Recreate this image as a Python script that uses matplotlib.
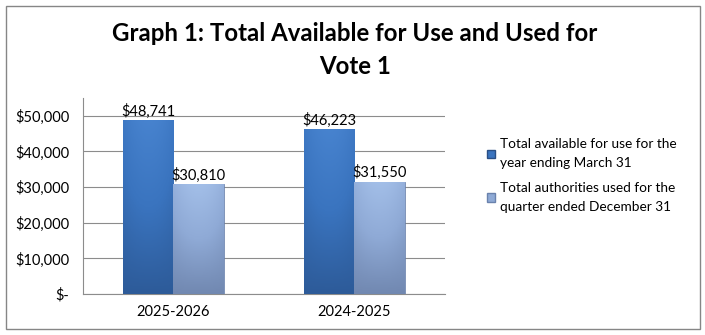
import matplotlib
matplotlib.use("Agg")
import matplotlib.pyplot as plt
import numpy as np
from matplotlib.patches import Patch, Rectangle
from matplotlib.colors import LinearSegmentedColormap

plt.rcParams['font.family'] = ['Lato', 'DejaVu Sans']

categories = ['2025-2026', '2024-2025']
available = [48741, 46223]
used = [30810, 31550]
series_names = ['Total available for use for the\nyear ending March 31',
                'Total authorities used for the\nquarter ended December 31']
yticks = [0, 10000, 20000, 30000, 40000, 50000]
ytick_labels = ['$-', '$10,000', '$20,000', '$30,000', '$40,000', '$50,000']

dark_cmap = LinearSegmentedColormap.from_list('dark', ['#2a5590', '#3a74bf', '#4a86d2'])
light_cmap = LinearSegmentedColormap.from_list('light', ['#6a80a8', '#8faad6', '#a7c3ec'])

fig = plt.figure(figsize=(7.05, 3.35), dpi=100)
ax = fig.add_axes([0.1177, 0.1224, 0.5135, 0.585])

x = np.arange(len(categories))
w = 0.28


def gradient_bars(bars, cmap):
    for b in bars:
        x0, y0 = b.get_x(), b.get_y()
        bw, bh = b.get_width(), b.get_height()
        vert = np.linspace(0, 1, 64)[:, None]
        horiz = 1 - 0.35 * (np.linspace(-1, 1, 32)[None, :] ** 2)
        img = vert * 0.8 * horiz + 0.1
        im = ax.imshow(img, extent=[x0, x0 + bw, y0, y0 + bh], origin='lower',
                       cmap=cmap, vmin=0, vmax=1, aspect='auto', zorder=3)
        im.set_clip_path(b)
        b.set_facecolor('none')


b1 = ax.bar(x - w / 2, available, w, color='#3a74bf', edgecolor='#2a4f85', linewidth=0.6, zorder=3)
b2 = ax.bar(x + w / 2, used, w, color='#8faad6', edgecolor='#6a82ad', linewidth=0.6, zorder=3)
gradient_bars(b1, dark_cmap)
gradient_bars(b2, light_cmap)

for bars, vals in ((b1, available), (b2, used)):
    for b, v in zip(bars, vals):
        ax.text(b.get_x() + b.get_width() / 2, v + 500, f'${v:,}', ha='center', va='bottom',
                fontsize=10.5, color='black')

ax.set_xlim(-0.5, 1.5)
ax.set_ylim(0, 55000)
ax.set_yticks(yticks)
ax.set_yticklabels(ytick_labels)
ax.set_xticks(x)
ax.set_xticklabels(categories)
ax.tick_params(length=0, labelsize=10.5, pad=8)
ax.tick_params(axis='y', pad=10)
ax.grid(axis='y', color='#8c8c8c', linewidth=0.8, zorder=0)
ax.set_axisbelow(True)
for s in ['top', 'right']:
    ax.spines[s].set_visible(False)
for s in ['left', 'bottom']:
    ax.spines[s].set_color('#8c8c8c')
    ax.spines[s].set_linewidth(0.8)

fig.text(0.503, 0.90, 'Graph 1: Total Available for Use and Used for', ha='center', va='center',
         fontsize=17.3, fontweight='bold')
fig.text(0.503, 0.80, 'Vote 1', ha='center', va='center', fontsize=17.3, fontweight='bold')

handles = [Patch(facecolor='#3a74bf', edgecolor='#2a4f85'),
           Patch(facecolor='#8faad6', edgecolor='#6a82ad')]
leg = fig.legend(handles, series_names, loc='upper left', bbox_to_anchor=(0.674, 0.625),
                 frameon=False, fontsize=9.8, handlelength=0.55, handleheight=0.55,
                 handletextpad=0.35, labelspacing=0.9)
for t in leg.get_texts():
    t.set_linespacing(1.75)

fig.add_artist(Rectangle((6 / 705, 6 / 335), 694 / 705, 323 / 335, transform=fig.transFigure,
                         fill=False, edgecolor='#868686', linewidth=1))

fig.savefig('out.png', dpi=100)
